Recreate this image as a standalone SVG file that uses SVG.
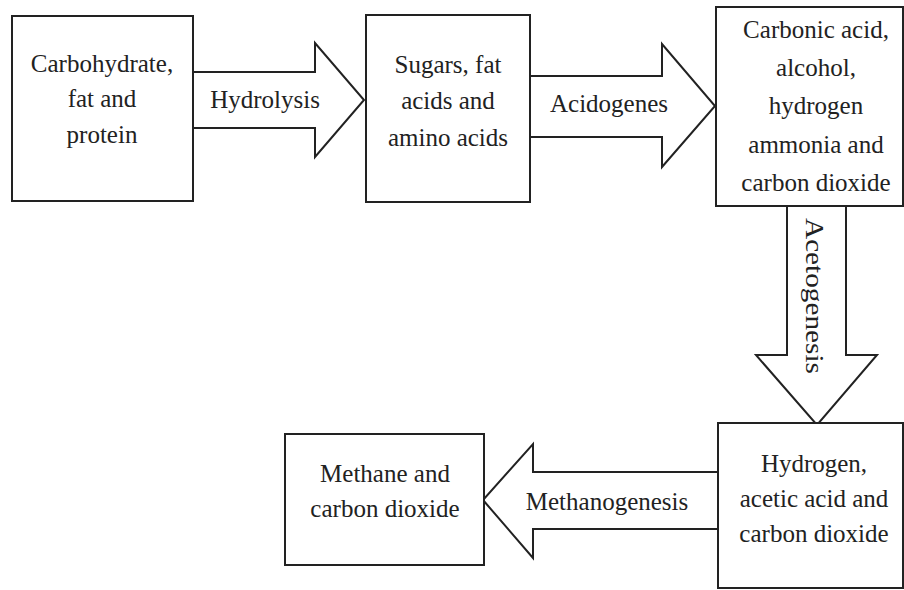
<svg xmlns="http://www.w3.org/2000/svg" width="904" height="590" viewBox="0 0 904 590">
<style>
.box{fill:#fff;stroke:#222;stroke-width:2}
.arr{fill:#fff;stroke:#222;stroke-width:2;stroke-linejoin:miter}
text{font-family:"Liberation Serif","Times New Roman",serif;font-size:25px;fill:#222;text-anchor:middle}
</style>
<rect width="904" height="590" fill="#fff"/>
<g id="connectors">
<path class="arr" d="M193,72 H315 V43 L364,100 L315,157 V128 H193"/>
<text x="265" y="108">Hydrolysis</text>
<path class="arr" d="M530,76 H662 V44 L715,106 L662,167 V137 H530"/>
<text x="609" y="112">Acidogenes</text>
<path class="arr" d="M787,206 V355 H756 L817,425 L877,355 H846 V206"/>
<text transform="translate(806,218) rotate(90)" style="text-anchor:start" textLength="156" lengthAdjust="spacingAndGlyphs">Acetogenesis</text>
<path class="arr" d="M718,472 H533 V444 L483,500 L533,558 V529 H718"/>
<text x="607" y="510">Methanogenesis</text>
</g>
<g id="n1">
<rect class="box" x="12" y="16" width="181" height="185"/>
<text x="102" y="72">Carbohydrate,</text>
<text x="102" y="107">fat and</text>
<text x="102" y="143">protein</text>
</g>
<g id="n2">
<rect class="box" x="366" y="15" width="164" height="187"/>
<text x="448" y="73">Sugars, fat</text>
<text x="448" y="109">acids and</text>
<text x="448" y="146">amino acids</text>
</g>
<g id="n3">
<rect class="box" x="716" y="7" width="187" height="199"/>
<text x="816" y="38">Carbonic acid,</text>
<text x="816" y="76">alcohol,</text>
<text x="816" y="114">hydrogen</text>
<text x="816" y="153">ammonia and</text>
<text x="816" y="191">carbon dioxide</text>
</g>
<g id="n4">
<rect class="box" x="718" y="423" width="185" height="165"/>
<text x="814" y="472">Hydrogen,</text>
<text x="814" y="507">acetic acid and</text>
<text x="814" y="542">carbon dioxide</text>
</g>
<g id="n5">
<rect class="box" x="285" y="434" width="199" height="131"/>
<text x="385" y="482">Methane and</text>
<text x="385" y="517">carbon dioxide</text>
</g>
</svg>
